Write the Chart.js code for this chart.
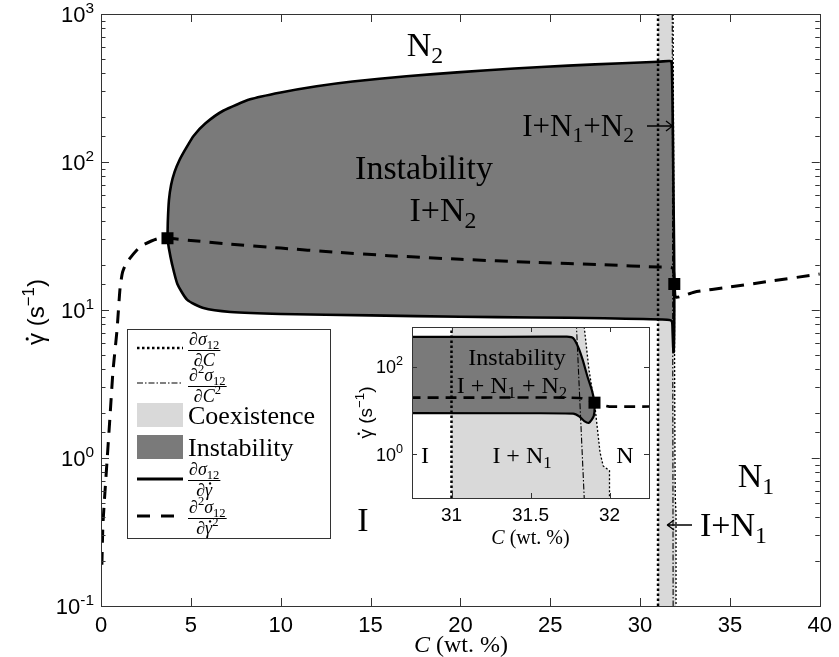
<!DOCTYPE html>
<html>
<head>
<meta charset="utf-8">
<script src="https://cdn.jsdelivr.net/npm/chart.js@4.4.1/dist/chart.umd.min.js"></script>
<style>
  body { margin: 0; background: #fff; }
  #wrap { position: relative; width: 839px; height: 657px; }
  canvas { position: absolute; }
</style>
</head>
<body>
<div id="wrap">
  <canvas id="mainChart" width="839" height="657" style="left:0;top:0"></canvas>
  <canvas id="insetChart" width="310" height="250" style="left:350px;top:318px"></canvas>
</div>
<script>
// ---- данные (C в wt.%, скорость сдвига в s^-1) ----
const xTickValues = [0, 5, 10, 15, 20, 25, 30, 35, 40];
const insetXTicks = [31, 31.5, 32];
const insetYTicks = [1, 100];

// граница неустойчивости (d sigma / d gamma_dot = 0), замкнутый контур
const instC = [3.7, 3.72, 3.78, 3.9, 4.1, 4.35, 4.7, 5.15, 5.8, 6.8, 8.3, 10, 12, 14, 17, 20, 23, 26, 29, 31, 31.6,
  31.73, 31.77, 31.8, 31.83, 31.86, 31.89, 31.905, 31.9, 31.87, 31.84, 31.81, 31.77,
  31.5, 28, 24, 20, 15, 10, 7.2, 5.7, 4.8, 4.25, 3.95, 3.78, 3.7];
const instG = [30.5, 40, 55, 70, 86, 102, 122, 150, 182, 222, 265, 295, 325, 350, 380, 405, 428, 448, 465, 476, 481,
  480, 447, 289, 144, 60, 27.5, 14, 7.4, 5.2, 5.7, 7.2, 8.4,
  8.6, 8.8, 8.9, 9.0, 9.2, 9.4, 9.7, 10.3, 11.7, 15, 20.5, 26, 30.5];

// d2 sigma / d gamma_dot2 = 0 (штриховая)
const dashC = [0.05, 0.11, 0.33, 0.5, 0.67, 0.89, 1.06, 1.2, 1.44, 2.17, 3.1, 3.7, 5, 7, 10, 13, 16, 20, 24, 28, 31, 31.81,
  31.905, 32.0, 33, 35, 37, 40];
const dashG = [0.19, 0.36, 0.93, 1.9, 3.9, 7.3, 14, 18, 21, 26.7, 30.2, 30.5, 29.5, 28, 26.2, 24.6, 23.3, 22, 21, 20.2, 19.5, 19.2,
  15, 12.2, 13.2, 14.3, 15.5, 17.5];

// d sigma / dC = 0 (пунктир) и d2 sigma / dC2 = 0 (штрихпунктир)
const dotLeftC = [31.0, 31.0];
const dotLeftG = [0.1, 1000];
const dotRightC = [31.84, 31.84, 31.87, 31.91, 31.94, 31.96, 32.0, 32.0];
const dotRightG = [1000, 800, 85, 10.5, 1.1, 0.54, 0.42, 0.1];
const dashDotC = [31.79, 31.84];
const dashDotG = [1000, 0.1];

// точки пересечения
const squareC = [3.7, 31.905];
const squareG = [30.5, 15];

const legendLabels = ['Coexistence', 'Instability'];

// ---- вспомогательное ----
const sans = '"Liberation Sans", Arial, sans-serif';
const serif = '"Liberation Serif", "Times New Roman", serif';
const lightGray = '#d9d9d9';
const darkGray = '#7a7a7a';

const pts = (xs, ys) => xs.map((x, i) => ({x: x, y: ys[i]}));
// полоса сосуществования: вверх по левой границе, вниз по правой
const coexPts = pts(dotLeftC, dotLeftG).concat(pts(dotRightC, dotRightG));
const isPow10 = v => Math.abs(Math.log10(v) - Math.round(Math.log10(v))) < 1e-6;

// текст с индексами: parts = [[text, kind]], kind: '' | 'i' | 'sub' | 'sup' | 'g' (гамма с точкой) | 'gi'
function rich(ctx, parts, x, y, size, family, align) {
  const fontOf = p => {
    const small = p[1] === 'sub' || p[1] === 'sup';
    const ital = p[1] === 'i' || p[1] === 'gi';
    return (ital ? 'italic ' : '') + (small ? size * 0.7 : size) + 'px ' + family;
  };
  let w = 0;
  parts.forEach(p => { ctx.font = fontOf(p); w += ctx.measureText(p[0]).width; });
  let cx = align === 'center' ? x - w / 2 : align === 'right' ? x - w : x;
  ctx.textAlign = 'left';
  ctx.textBaseline = 'alphabetic';
  parts.forEach(p => {
    ctx.font = fontOf(p);
    const dy = p[1] === 'sub' ? size * 0.2 : p[1] === 'sup' ? -size * 0.42 : 0;
    const tw = ctx.measureText(p[0]).width;
    ctx.fillText(p[0], cx, y + dy);
    if (p[1] === 'g' || p[1] === 'gi') {
      ctx.beginPath();
      ctx.arc(cx + tw * 0.5 + (p[1] === 'gi' ? size * 0.08 : 0), y - size * 0.7, size * 0.065, 0, Math.PI * 2);
      ctx.fill();
    }
    cx += tw;
  });
  return w;
}

function frac(ctx, num, den, x, yBar, size) {
  const measure = parts => parts.reduce((s, p) => {
    const small = p[1] === 'sub' || p[1] === 'sup';
    const ital = p[1] === 'i' || p[1] === 'gi';
    ctx.font = (ital ? 'italic ' : '') + (small ? size * 0.7 : size) + 'px ' + serif;
    return s + ctx.measureText(p[0]).width;
  }, 0);
  const w = Math.max(measure(num), measure(den)) + 2;
  rich(ctx, num, x + w / 2, yBar - 5, size, serif, 'center');
  rich(ctx, den, x + w / 2, yBar + 16, size, serif, 'center');
  ctx.beginPath();
  ctx.lineWidth = 1;
  ctx.moveTo(x, yBar + 0.5);
  ctx.lineTo(x + w, yBar + 0.5);
  ctx.stroke();
}

function arrow(ctx, x1, x2, y) {
  const d = x2 > x1 ? -1 : 1;
  ctx.beginPath();
  ctx.lineWidth = 1.3;
  ctx.moveTo(x1, y); ctx.lineTo(x2, y);
  ctx.moveTo(x2 + d * 7, y - 5); ctx.quadraticCurveTo(x2 + d * 2, y - 1, x2, y);
  ctx.moveTo(x2 + d * 7, y + 5); ctx.quadraticCurveTo(x2 + d * 2, y + 1, x2, y);
  ctx.stroke();
}

// рамка и засечки внутрь (как в MATLAB)
function drawFrame(chart, xt, yt, majorLen, minorLen) {
  const {ctx, chartArea: a, scales: {x, y}} = chart;
  ctx.save();
  ctx.strokeStyle = '#333';
  ctx.lineWidth = 1;
  ctx.beginPath();
  xt.forEach(v => {
    const px = Math.round(x.getPixelForValue(v)) + 0.5;
    ctx.moveTo(px, a.bottom); ctx.lineTo(px, a.bottom - majorLen);
    ctx.moveTo(px, a.top); ctx.lineTo(px, a.top + majorLen);
  });
  yt.forEach(v => {
    const len = isPow10(v) ? majorLen : minorLen;
    const py = Math.round(y.getPixelForValue(v)) + 0.5;
    ctx.moveTo(a.left, py); ctx.lineTo(a.left + len, py);
    ctx.moveTo(a.right, py); ctx.lineTo(a.right - len, py);
  });
  ctx.stroke();
  ctx.strokeRect(Math.round(a.left) + 0.5, Math.round(a.top) + 0.5, Math.round(a.right - a.left), Math.round(a.bottom - a.top));
  ctx.restore();
}

function yPowLabels(chart, values, xRight, size) {
  const {ctx, scales: {y}} = chart;
  ctx.fillStyle = '#000';
  values.filter(isPow10).forEach(v => {
    const py = y.getPixelForValue(v);
    rich(ctx, [['10', ''], [String(Math.round(Math.log10(v))), 'sup']], xRight, py + size * 0.36, size, sans, 'right');
  });
}

// наборы данных, общие для основного графика и вставки
function makeDatasets(s) {
  return [
    {data: coexPts, borderWidth: 0, borderColor: 'rgba(0,0,0,0)', backgroundColor: lightGray, fill: 'shape', order: 6},
    {data: pts(instC, instG), borderColor: '#000', borderWidth: s.solid, backgroundColor: darkGray, fill: 'shape', tension: 0.2, order: 5},
    {data: pts(dotLeftC, dotLeftG), borderColor: '#000', borderWidth: 2.5, borderDash: [2.5, 2.5], fill: false, order: 4},
    {data: pts(dotRightC, dotRightG), borderColor: '#000', borderWidth: 1.3, borderDash: [2, 2], fill: false, order: 4},
    {data: pts(dashDotC, dashDotG), borderColor: '#000', borderWidth: 1.1, borderDash: [6, 2, 1.5, 2], fill: false, order: 4},
    {data: pts(dashC, dashG), borderColor: '#000', borderWidth: s.dash, borderDash: s.dashPattern, fill: false, tension: 0.2, order: 2},
    {data: pts(squareC, squareG), showLine: false, pointStyle: 'rect', pointRadius: 8.5, pointBackgroundColor: '#000', pointBorderWidth: 0, order: 1}
  ];
}

// ---- основной график ----
const mainDecor = {
  id: 'mainDecor',
  beforeDraw(chart) {
    const {ctx} = chart;
    ctx.save();
    ctx.fillStyle = '#fff';
    ctx.fillRect(0, 0, chart.width, chart.height);
    ctx.restore();
  },
  afterDraw(chart) {
    const {ctx} = chart;
    drawFrame(chart, xTickValues, chart.scales.y.ticks.map(t => t.value), 8, 4.5);
    ctx.save();
    ctx.fillStyle = '#000';
    ctx.strokeStyle = '#000';
    yPowLabels(chart, chart.scales.y.ticks.map(t => t.value), 94, 22);

    // подписи осей
    rich(ctx, [['C', 'i'], [' (wt. %)', '']], 461, 652, 24, serif, 'center');
    ctx.save();
    ctx.translate(36, 312);
    ctx.rotate(-Math.PI / 2);
    rich(ctx, [['\u03B3', 'g'], [' (s', ''], ['\u22121', 'sup'], [')', '']], 0, 8, 24, sans, 'center');
    ctx.restore();

    // области фаз
    const L = 34, b = L * 0.33;
    rich(ctx, [['N', ''], ['2', 'sub']], 425, 45 + b, L, serif, 'center');
    rich(ctx, [['Instability', '']], 424, 168 + b, L, serif, 'center');
    rich(ctx, [['I+N', ''], ['2', 'sub']], 443, 210 + b, L, serif, 'center');
    rich(ctx, [['I+N', ''], ['1', 'sub'], ['+N', ''], ['2', 'sub']], 634, 126 + 10, 31, serif, 'right');
    arrow(ctx, 647, 673, 126);
    rich(ctx, [['N', ''], ['1', 'sub']], 756, 476 + b, L, serif, 'center');
    rich(ctx, [['I', '']], 363, 520 + b, L, serif, 'center');
    arrow(ctx, 692, 667, 525);
    rich(ctx, [['I+N', ''], ['1', 'sub']], 700, 525 + b, L, serif, 'left');

    // легенда
    ctx.fillStyle = '#fff';
    ctx.fillRect(127, 329, 203, 209);
    ctx.lineWidth = 1;
    ctx.strokeStyle = '#333';
    ctx.strokeRect(127.5, 329.5, 203, 209);
    ctx.strokeStyle = '#000';
    const seg = (y, w, dash) => {
      ctx.beginPath(); ctx.lineWidth = w; ctx.setLineDash(dash);
      ctx.moveTo(137, y); ctx.lineTo(183, y); ctx.stroke(); ctx.setLineDash([]);
    };
    seg(348, 2.5, [2.5, 2.5]);
    seg(383, 1.1, [6, 2, 1.5, 2]);
    ctx.fillStyle = lightGray; ctx.fillRect(137, 403, 46, 24);
    ctx.fillStyle = darkGray; ctx.fillRect(137, 435, 46, 24);
    seg(479, 2.8, []);
    seg(516, 3, [13, 11]);
    ctx.fillStyle = '#000';
    const F = 18;
    frac(ctx, [['\u2202', ''], ['\u03C3', 'i'], ['12', 'sub']], [['\u2202', ''], ['C', 'i']], 188, 350, F);
    frac(ctx, [['\u2202', ''], ['2', 'sup'], ['\u03C3', 'i'], ['12', 'sub']], [['\u2202', ''], ['C', 'i'], ['2', 'sup']], 188, 386, F);
    rich(ctx, [[legendLabels[0], '']], 188, 424, 26, serif, 'left');
    rich(ctx, [[legendLabels[1], '']], 188, 456, 26, serif, 'left');
    frac(ctx, [['\u2202', ''], ['\u03C3', 'i'], ['12', 'sub']], [['\u2202', ''], ['\u03B3', 'gi']], 188, 480, F);
    frac(ctx, [['\u2202', ''], ['2', 'sup'], ['\u03C3', 'i'], ['12', 'sub']], [['\u2202', ''], ['\u03B3', 'gi'], ['2', 'sup']], 188, 518, F);
    ctx.restore();
  }
};

new Chart(document.getElementById('mainChart').getContext('2d'), {
  type: 'line',
  data: {datasets: makeDatasets({solid: 2.6, dash: 3, dashPattern: [13, 9]})},
  options: {
    responsive: false,
    animation: false,
    devicePixelRatio: 1,
    layout: {padding: {top: 14, right: 18, left: 0, bottom: 0}},
    elements: {point: {radius: 0}},
    plugins: {legend: {display: false}, tooltip: {enabled: false}},
    scales: {
      x: {
        type: 'linear', min: 0, max: 40,
        afterBuildTicks: s => { s.ticks = xTickValues.map(v => ({value: v})); },
        afterFit: s => { s.height = 51; },
        grid: {display: false, drawTicks: false},
        border: {display: false},
        ticks: {font: {family: sans, size: 22}, color: '#000', padding: 7, maxRotation: 0}
      },
      y: {
        type: 'logarithmic', min: 0.1, max: 1000,
        afterFit: s => { s.width = 101; },
        grid: {display: false, drawTicks: false},
        border: {display: false},
        ticks: {display: false}
      }
    }
  },
  plugins: [mainDecor]
});

// ---- вставка (увеличенный фрагмент около C = 31-32) ----
const insetDecor = {
  id: 'insetDecor',
  beforeDatasetsDraw(chart) {
    const {ctx, chartArea: a} = chart;
    ctx.save();
    ctx.fillStyle = '#fff';
    ctx.fillRect(a.left, a.top, a.right - a.left, a.bottom - a.top);
    ctx.restore();
  },
  afterDraw(chart) {
    const {ctx, chartArea: a} = chart;
    drawFrame(chart, insetXTicks, insetYTicks, 5, 3);
    ctx.save();
    ctx.fillStyle = '#000';
    yPowLabels(chart, insetYTicks, a.left - 9, 18);
    rich(ctx, [['C', 'i'], [' (wt. %)', '']], (a.left + a.right) / 2, 226, 20, serif, 'center');
    ctx.save();
    ctx.translate(15, (a.top + a.bottom) / 2);
    ctx.rotate(-Math.PI / 2);
    rich(ctx, [['\u03B3', 'g'], [' (s', ''], ['\u22121', 'sup'], [')', '']], 0, 7, 19, sans, 'center');
    ctx.restore();
    const S = 24, b = S * 0.33;
    rich(ctx, [['Instability', '']], 167, 39 + b, S, serif, 'center');
    rich(ctx, [['I + N', ''], ['1', 'sub'], [' + N', ''], ['2', 'sub']], 162, 67 + b, S, serif, 'center');
    rich(ctx, [['I', '']], 75, 137 + b, S, serif, 'center');
    rich(ctx, [['I + N', ''], ['1', 'sub']], 172, 137 + b, S, serif, 'center');
    rich(ctx, [['N', '']], 275, 137 + b, S, serif, 'center');
    ctx.restore();
  }
};

new Chart(document.getElementById('insetChart').getContext('2d'), {
  type: 'line',
  data: {datasets: makeDatasets({solid: 2.2, dash: 2.6, dashPattern: [11, 7]})},
  options: {
    responsive: false,
    animation: false,
    devicePixelRatio: 1,
    layout: {padding: {top: 9, right: 11, left: 0, bottom: 0}},
    elements: {point: {radius: 0}},
    plugins: {legend: {display: false}, tooltip: {enabled: false}},
    scales: {
      x: {
        type: 'linear', min: 30.75, max: 32.25,
        afterBuildTicks: s => { s.ticks = insetXTicks.map(v => ({value: v})); },
        afterFit: s => { s.height = 70; },
        grid: {display: false, drawTicks: false},
        border: {display: false},
        ticks: {font: {family: sans, size: 19}, color: '#000', padding: 6, maxRotation: 0, autoSkip: false,
          callback: v => String(v)}
      },
      y: {
        type: 'logarithmic', min: 0.1, max: 800,
        afterFit: s => { s.width = 62; },
        grid: {display: false, drawTicks: false},
        border: {display: false},
        ticks: {display: false}
      }
    }
  },
  plugins: [insetDecor]
});
</script>
</body>
</html>
